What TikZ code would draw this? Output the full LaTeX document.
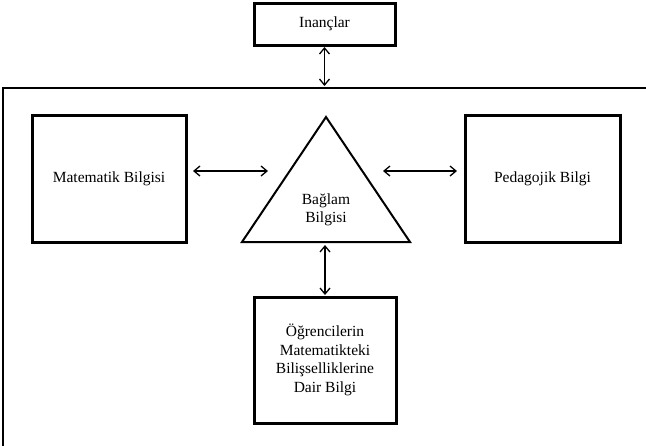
\documentclass[tikz,border=0pt]{standalone}
\usepackage{fontspec}
\setmainfont{Liberation Serif}
\usetikzlibrary{positioning,arrows.meta}

\tikzset{
  bilgi/.style={draw, line width=3pt, inner sep=2pt, outer sep=0pt, align=center,
    minimum width=154pt, minimum height=127pt, font=\fontsize{15.5}{18.5}\selectfont},
  metin/.style={inner sep=0pt, align=center, font=\fontsize{15.5}{18.5}\selectfont},
  ok/.style={{Straight Barb[length=6pt,width=10pt]}-{Straight Barb[length=6pt,width=10pt]}, line width=1.3pt},
}

\begin{document}
\begin{tikzpicture}[x=1pt,y=-1pt]
    \useasboundingbox (0,0) rectangle (646,445);

    % Outer frame
    \draw[line width=2pt] (3,447) -- (3,88) -- (648,88);

    % Beliefs box
    \node[bilgi, minimum width=141pt, minimum height=42pt] (inanclar) at (324.5,24) {Inançlar};
    \coordinate (cerceve) at (324.5,87);

    % Side boxes
    \node[bilgi] (matematik) at (109,179) {Matematik Bilgisi};
    \node[bilgi, minimum width=155pt] (pedagojik) at (542.5,178.5) {Pedagojik Bilgi};

    % Context triangle
    \coordinate (ust) at (326,117);
    \coordinate (solalt) at (242,242);
    \coordinate (sagalt) at (410,242);
    \draw[line width=2pt, line join=miter] (ust) -- (solalt) -- (sagalt) -- cycle;
    \node[metin] (baglam) at (326,210) {Bağlam\\Bilgisi};
    \coordinate (baglamsol) at (268,171);
    \coordinate (baglamsag) at (383,171);
    \coordinate (baglamalt) at (325,245);

    % Student cognition box
    \node[bilgi, minimum width=142pt, minimum height=126pt] (ogrenci) at (325,360)
        {Öğrencilerin\\Matematikteki\\Bilişselliklerine\\Dair Bilgi};

    % Arrows
    \draw[ok, shorten <=2pt, shorten >=1pt] (inanclar.south) -- (cerceve);
    \draw[ok, shorten <=7pt] (matematik.east |- baglamsol) -- (baglamsol);
    \draw[ok, shorten <=8pt] (pedagojik.west |- baglamsag) -- (baglamsag);
    \draw[ok, shorten >=2pt] (baglamalt) -- (ogrenci.north);
\end{tikzpicture}
\end{document}
